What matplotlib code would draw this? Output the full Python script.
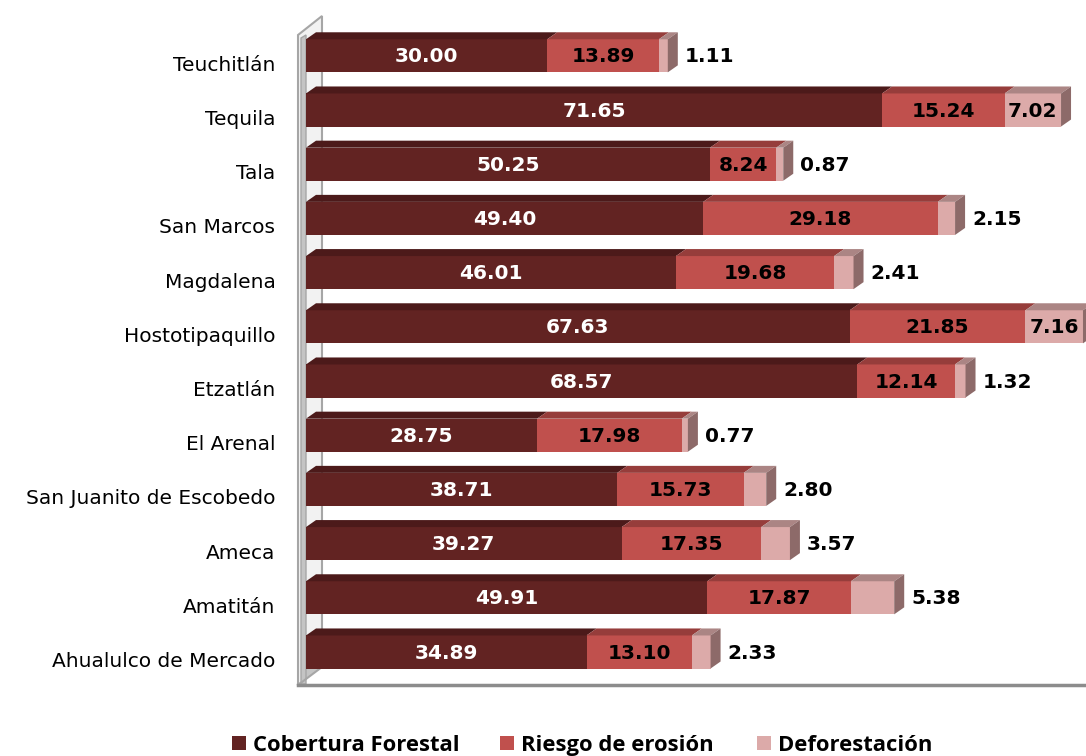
# Stacked horizontal bars with a fake 3D look (cobertura forestal por municipio)
import matplotlib
matplotlib.use('Agg')
import matplotlib.pyplot as plt
import matplotlib.transforms as mtrans
from matplotlib.patches import Polygon, Rectangle

# Data (bottom to top as drawn)
municipios = ['Ahualulco de Mercado', 'Amatitán', 'Ameca', 'San Juanito de Escobedo',
              'El Arenal', 'Etzatlán', 'Hostotipaquillo', 'Magdalena', 'San Marcos',
              'Tala', 'Tequila', 'Teuchitlán']
cobertura = [34.89, 49.91, 39.27, 38.71, 28.75, 68.57, 67.63, 46.01, 49.40, 50.25, 71.65, 30.00]
riesgo = [13.10, 17.87, 17.35, 15.73, 17.98, 12.14, 21.85, 19.68, 29.18, 8.24, 15.24, 13.89]
deforestacion = [2.33, 5.38, 3.57, 2.80, 0.77, 1.32, 7.16, 2.41, 2.15, 0.87, 7.02, 1.11]
series_names = ['Cobertura Forestal', 'Riesgo de erosión', 'Deforestación']

front_colors = ['#622322', '#c0504d', '#dcaaa9']
top_colors = ['#4c1a1a', '#963d3b', '#ab8584']
side_color = '#8d6a69'
label_colors = ['white', 'black', 'black']

W, H = 1086, 756
fig = plt.figure(figsize=(W / 100, H / 100), dpi=100)

# axes placed so that x=0 sits at the front of the wall
x0_px, x1_px, ytop_px, ybot_px = 306, 1086, 17, 685
ax = fig.add_axes([x0_px / W, (H - ybot_px) / H, (x1_px - x0_px) / W, (ybot_px - ytop_px) / H])
ax.set_xlim(0, (x1_px - x0_px) / 8.04)
ax.set_ylim(-0.609, 11.716)
ax.patch.set_visible(False)
for s in ax.spines.values():
    s.set_visible(False)
ax.set_xticks([])

# pixel transform (image coordinates, y down) for the wall / floor / legend
px = mtrans.Affine2D().scale(1 / W, -1 / H).translate(0, 1) + fig.transFigure

wall = Polygon([(298, 685), (298, 35), (322, 16), (322, 667)], closed=True,
               facecolor='#f2f2f2', edgecolor='#a6a6a6', lw=1.5, transform=px, clip_on=False, zorder=0.5)
strip = Polygon([(301, 684), (301, 38), (306, 35), (306, 684)], closed=True,
                facecolor='#c4c4c4', edgecolor='#a6a6a6', lw=1, transform=px, clip_on=False, zorder=0.6)
floor = Polygon([(298, 685), (322, 667), (1095, 667), (1095, 685)], closed=True,
                facecolor='white', edgecolor='none', transform=px, clip_on=False, zorder=0.55)
shade = Polygon([(302, 683), (302, 668), (320, 668)], closed=True,
                facecolor='#c4c4c4', edgecolor='none', transform=px, clip_on=False, zorder=0.6)
ax.add_patch(wall)
ax.add_patch(floor)
ax.add_patch(shade)
ax.add_patch(strip)
ax.plot([298, 322], [685, 667], color='#a6a6a6', lw=1.5, transform=px, clip_on=False, zorder=0.7)
ax.plot([298, 1090], [685, 685], color='#8c8c8c', lw=2.5, transform=px, clip_on=False, zorder=0.7)

# bar geometry
h = 0.61
dx = 10 / 8.04   # depth offset in x data units
dy = 7 / 54.2    # depth offset in y data units
y = list(range(len(municipios)))

series = [cobertura, riesgo, deforestacion]
lefts = [0.0] * len(municipios)
for k, vals in enumerate(series):
    ax.barh(y, vals, left=lefts, height=h, color=front_colors[k], zorder=2)
    for i, v in enumerate(vals):
        a, b = lefts[i], lefts[i] + v
        top = y[i] + h / 2
        ax.add_patch(Polygon([(a, top), (b, top), (b + dx, top + dy), (a + dx, top + dy)],
                             closed=True, facecolor=top_colors[k], edgecolor='none',
                             zorder=2, clip_on=False))
        # value labels
        txt = '%.2f' % v
        if k < 2 or v > 6:
            ax.text((a + b) / 2, y[i] - 0.02, txt, ha='center', va='center',
                    color=label_colors[k], fontsize=14.5, fontweight='bold', zorder=5, clip_on=False)
    lefts = [lefts[i] + vals[i] for i in range(len(vals))]

# side face at the end of each stack and outside labels
for i, end in enumerate(lefts):
    bot = y[i] - h / 2
    top = y[i] + h / 2
    ax.add_patch(Polygon([(end, bot), (end, top), (end + dx, top + dy), (end + dx, bot + dy)],
                         closed=True, facecolor=side_color, edgecolor='none', zorder=2, clip_on=False))
    if deforestacion[i] <= 6:
        ax.annotate('%.2f' % deforestacion[i], xy=(end + dx, y[i] - 0.02), xytext=(5, 0),
                    textcoords='offset points', ha='left', va='center', color='black',
                    fontsize=14.5, fontweight='bold', zorder=5, annotation_clip=False)

ax.set_yticks([v - 0.14 for v in y])
ax.set_yticklabels(municipios, fontsize=14.5)
ax.tick_params(axis='y', length=0, pad=22)

# legend drawn by hand so all entries share one baseline
leg_x = [232, 500, 757]
for c, name, lx in zip(front_colors, series_names, leg_x):
    fig.add_artist(Rectangle((lx, 736), 14, 14, facecolor=c, edgecolor='none', transform=px))
    fig.text((lx + 21) / W, 1 - 751 / H, name, ha='left', va='baseline',
             family='Open Sans', fontweight='bold', fontsize=15.8)

fig.savefig('out.png', dpi=100)
